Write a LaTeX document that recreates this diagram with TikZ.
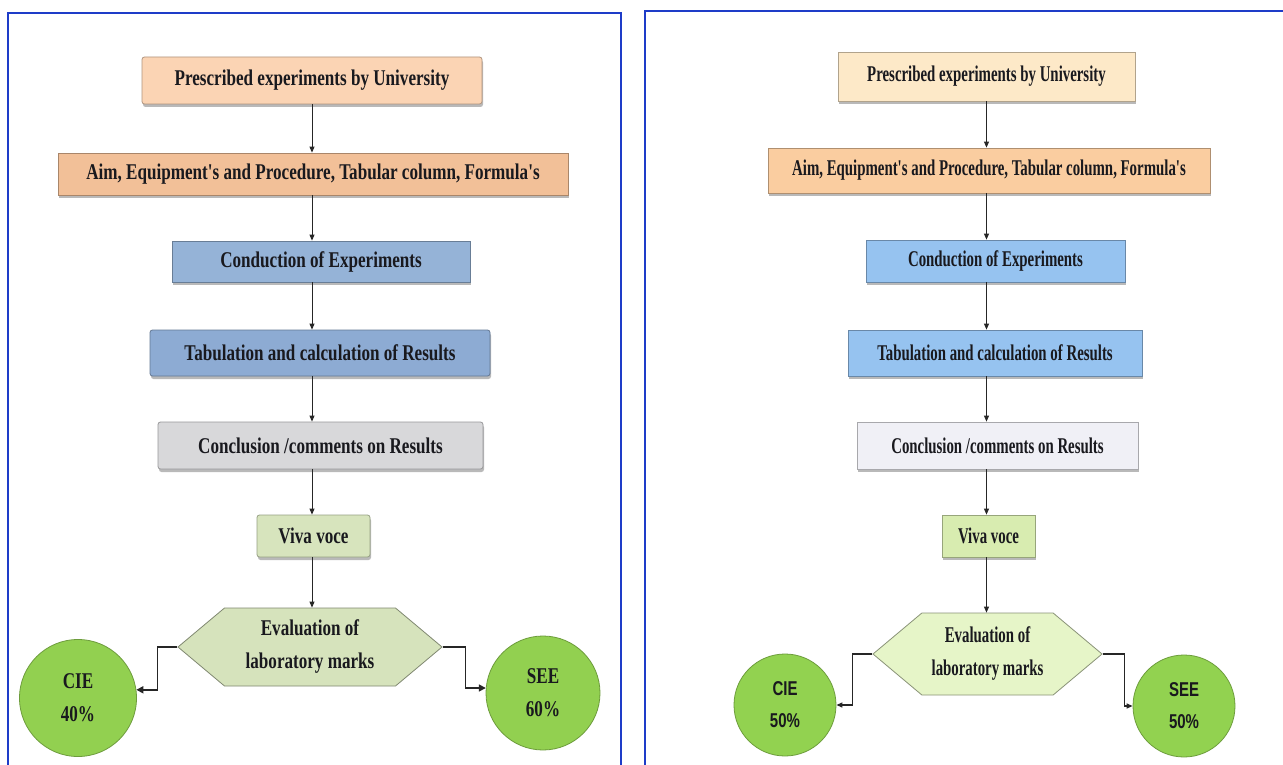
\documentclass[tikz,border=0pt]{standalone}
\usepackage{fontspec}
\newfontfamily\cserif{Liberation Serif}[FakeStretch=0.76]
\newfontfamily\rserif{Liberation Serif}[FakeStretch=0.66]
\newfontfamily\rsans{Liberation Sans}[FakeStretch=0.75]
\newcommand\lftxt{\cserif\bfseries\fontsize{22.5}{33}\selectfont}
\newcommand\rttxt{\rserif\bfseries\fontsize{22.5}{33}\selectfont}
\newcommand\rctxt{\rsans\bfseries\fontsize{20}{32}\selectfont}
\usetikzlibrary{shapes.symbols,shadows,arrows.meta}
\definecolor{panelblue}{RGB}{30,60,200}
\definecolor{peachA}{RGB}{251,212,180}
\definecolor{orangeA}{RGB}{242,192,152}
\definecolor{blueA}{RGB}{149,179,215}
\definecolor{blueB}{RGB}{141,171,211}
\definecolor{grayA}{RGB}{216,216,218}
\definecolor{greenA}{RGB}{215,228,189}
\definecolor{hexA}{RGB}{214,227,188}
\definecolor{circA}{RGB}{146,208,80}
\definecolor{peachB}{RGB}{253,233,200}
\definecolor{orangeB}{RGB}{250,205,160}
\definecolor{blueC}{RGB}{150,195,240}
\definecolor{grayB}{RGB}{240,240,246}
\definecolor{greenB}{RGB}{216,236,176}
\definecolor{hexB}{RGB}{230,245,200}
\definecolor{circB}{RGB}{146,210,80}
\definecolor{inkc}{RGB}{25,25,30}
\tikzset{
  stepbox/.style={rectangle, rounded corners=2.5pt, draw=#1!70!black, line width=0.8pt,
    fill=#1, inner sep=0pt, text=inkc,
    drop shadow={shadow xshift=1pt, shadow yshift=-3pt, fill=black!50, opacity=0.55}},
  hexbox/.style={signal, signal to=west and east, signal pointer angle=80,
    draw=#1!60!black, line width=0.8pt, fill=#1, inner sep=0pt, align=center, text=inkc},
  markcirc/.style={circle, draw=#1!75!black, line width=0.8pt, fill=#1, inner sep=0pt,
    align=center, text=inkc},
  arr/.style={draw=black!85, line width=0.9pt, -{Triangle[length=6pt,width=5pt]}},
  sidearr/.style={draw=black!85, line width=1.6pt, -{Triangle[length=7pt,width=7pt]}},
  panel/.style={draw=panelblue, line width=1.5pt}
}
\begin{document}
\begin{tikzpicture}[x=1pt,y=-1pt]
\useasboundingbox[fill=white] (0,0) rectangle (1283,765);
\draw[panel] (8,765) -- (8,13) -- (621,13) -- (621,765);
\draw[panel] (645,765) -- (645,11) -- (1283,11);

% left panel
\node[stepbox=peachA, minimum width=340pt, minimum height=47pt, font=\lftxt] (L1) at (312,80.5) {Prescribed experiments by University};
\node[stepbox=orangeA, rounded corners=0pt, minimum width=510pt, minimum height=42pt, font=\lftxt] (L2) at (313,174) {Aim, Equipment's and Procedure, Tabular column, Formula's};
\node[stepbox=blueA, rounded corners=0pt, minimum width=298pt, minimum height=41pt, font=\lftxt] (L3) at (321,261.5) {Conduction of Experiments};
\node[stepbox=blueB, minimum width=340pt, minimum height=46pt, font=\lftxt] (L4) at (320,353) {Tabulation and calculation of Results};
\node[stepbox=grayA, minimum width=325pt, minimum height=47pt, font=\lftxt] (L5) at (320.5,445.5) {Conclusion /comments on Results};
\node[stepbox=greenA, minimum width=113pt, minimum height=42pt, font=\lftxt] (L6) at (313.5,536) {Viva voce};
\node[hexbox=hexA, minimum width=264pt, minimum height=78pt, font=\lftxt] (L7) at (310,647) {Evaluation of\\laboratory marks};
\node[markcirc=circA, minimum size=117pt, font=\lftxt] (L8) at (78,698) {CIE\\40\%};
\node[markcirc=circA, minimum size=114pt, font=\lftxt] (L9) at (543,693) {SEE\\60\%};

\draw[arr] (L1.south -| L1) -- (L2.north -| L1);
\draw[arr] (L2.south -| L1) -- (L3.north -| L1);
\draw[arr] (L3.south -| L1) -- (L4.north -| L1);
\draw[arr] (L4.south -| L1) -- (L5.north -| L1);
\draw[arr] (L5.south -| L1) -- (L6.north -| L1);
\draw[arr] (L6.south -| L1) -- (L7.north -| L1);
\draw[sidearr] (L7.west) -- ++(-20,0) |- (L8.8);
\draw[sidearr] (L7.east) -- ++(23,0) |- (L9.175);

% right panel
\node[stepbox=peachB, rounded corners=0pt, minimum width=297pt, minimum height=49pt, font=\rttxt] (R1) at (986.5,76.5) {Prescribed experiments by University};
\node[stepbox=orangeB, rounded corners=0pt, minimum width=442pt, minimum height=45pt, font=\rttxt] (R2) at (989,170.5) {Aim, Equipment's and Procedure, Tabular column, Formula's};
\node[stepbox=blueC, rounded corners=0pt, minimum width=259pt, minimum height=42pt, font=\rttxt] (R3) at (995.5,261) {Conduction of Experiments};
\node[stepbox=blueC, rounded corners=0pt, minimum width=294pt, minimum height=46pt, font=\rttxt] (R4) at (995,353) {Tabulation and calculation of Results};
\node[stepbox=grayB, rounded corners=0pt, minimum width=281pt, minimum height=47pt, font=\rttxt] (R5) at (997.5,445.5) {Conclusion /comments on Results};
\node[stepbox=greenB, rounded corners=0pt, minimum width=93pt, minimum height=42pt, font=\rttxt] (R6) at (988.5,536) {Viva voce};
\node[hexbox=hexB, minimum width=229pt, minimum height=82pt, font=\rttxt] (R7) at (987.5,654) {Evaluation of\\laboratory marks};
\node[markcirc=circB, minimum size=102pt, font=\rctxt] (R8) at (785,705) {CIE\\50\%};
\node[markcirc=circB, minimum size=102pt, font=\rctxt] (R9) at (1184,706) {SEE\\50\%};

\draw[arr] (R1.south -| R1) -- (R2.north -| R1);
\draw[arr] (R2.south -| R1) -- (R3.north -| R1);
\draw[arr] (R3.south -| R1) -- (R4.north -| R1);
\draw[arr] (R4.south -| R1) -- (R5.north -| R1);
\draw[arr] (R5.south -| R1) -- (R6.north -| R1);
\draw[arr] (R6.south -| R1) -- (R7.north -| R1);
\draw[arr, line width=1.2pt] (R7.west) -- ++(-20,0) |- (R8.east);
\draw[arr, line width=1.2pt] (R7.east) -- ++(22,0) |- (R9.west);
\end{tikzpicture}
\end{document}
